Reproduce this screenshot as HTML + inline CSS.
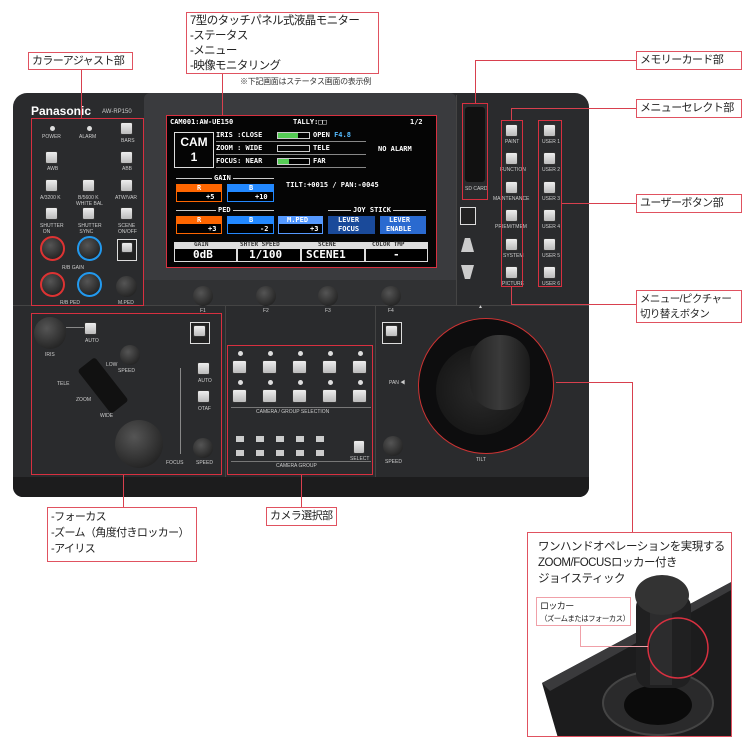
<!DOCTYPE html>
<html><head><meta charset="utf-8"><style>
*{margin:0;padding:0;box-sizing:border-box}
body{width:744px;height:751px;background:#fff;position:relative;overflow:hidden;font-family:"Liberation Sans","Noto Sans CJK JP",sans-serif}
.a{position:absolute}
.lb{position:absolute;border:1.5px solid #e05260;background:#fff;font-size:11px;line-height:15px;padding:1px 3px;color:#222;white-space:nowrap;letter-spacing:-0.6px;overflow:hidden}
.ln{position:absolute;background:#d8404e}
.rb{position:absolute;border:1px solid #d83040}
.btn{position:absolute;width:13px;height:13px;background:linear-gradient(#eee,#bbb);border:1px solid #333;border-radius:2px}
.t{position:absolute;color:#ccc;font-size:5px;white-space:nowrap}
.knob{position:absolute;border-radius:50%;background:radial-gradient(circle at 40% 35%,#555,#151515)}
.sc{position:absolute;font-family:"DejaVu Sans Mono",monospace;font-weight:bold;color:#fff;font-size:7px;white-space:nowrap}
</style></head><body>

<!-- device body -->
<div class="a" style="left:13px;top:93px;width:576px;height:404px;background:#2a2b2d;border-radius:14px 14px 10px 10px"></div>
<div class="a" style="left:13px;top:477px;width:576px;height:20px;background:#1c1c1d;border-radius:0 0 10px 10px"></div>
<div class="a" style="left:144px;top:93px;width:312px;height:212px;background:#3a3b3e;border-radius:6px"></div>
<div class="a" style="left:144px;top:280px;width:312px;height:25px;background:#303133"></div>
<div class="a" style="left:13px;top:305px;width:576px;height:1px;background:#444"></div>
<div class="a" style="left:225px;top:306px;width:1px;height:171px;background:#444"></div>
<div class="a" style="left:375px;top:306px;width:1px;height:171px;background:#444"></div>
<div class="a" style="left:456px;top:95px;width:1px;height:210px;background:#444"></div>

<!-- screen -->
<div class="a" style="left:166px;top:115px;width:271px;height:153px;background:#050505"></div>
<div class="sc" style="left:170px;top:118px">CAM001:AW-UE150</div>
<div class="sc" style="left:293px;top:118px">TALLY:□□</div>
<div class="sc" style="left:410px;top:118px">1/2</div>
<div class="a" style="left:174px;top:132px;width:40px;height:36px;border:1.5px solid #ddd;color:#fff;font-size:12px;font-weight:bold;text-align:center;line-height:15px;padding-top:2px">CAM<br>1</div>
<div class="sc" style="left:216px;top:131px">IRIS :CLOSE</div><div class="a" style="left:277px;top:132px;width:33px;height:7px;border:1px solid #ccc;background:linear-gradient(90deg,#5c5 65%,#000 65%)"></div><div class="sc" style="left:313px;top:131px">OPEN <span style="color:#5bf">F4.8</span></div>
<div class="sc" style="left:216px;top:144px">ZOOM : WIDE</div><div class="a" style="left:277px;top:145px;width:33px;height:7px;border:1px solid #ccc"></div><div class="sc" style="left:313px;top:144px">TELE</div>
<div class="sc" style="left:378px;top:145px">NO ALARM</div>
<div class="sc" style="left:216px;top:157px">FOCUS: NEAR</div><div class="a" style="left:277px;top:158px;width:33px;height:7px;border:1px solid #ccc;background:linear-gradient(90deg,#5c5 35%,#000 35%)"></div><div class="sc" style="left:313px;top:157px">FAR</div>
<div class="a" style="left:216px;top:141px;width:150px;height:1px;background:#888"></div>
<div class="a" style="left:216px;top:154px;width:150px;height:1px;background:#888"></div>
<div class="a" style="left:216px;top:167px;width:150px;height:1px;background:#888"></div>
<div class="a" style="left:176px;top:178px;width:98px;height:1px;background:#ccc"></div><div class="sc" style="left:212px;top:174px;background:#050505;padding:0 2px">GAIN</div>
<div class="a" style="left:176px;top:184px;width:46px;height:18px;border:1px solid #f60;background:linear-gradient(#f60 45%,#000 45%)"></div><div class="sc" style="left:197px;top:184px">R</div><div class="sc" style="left:206px;top:193px">+5</div>
<div class="a" style="left:227px;top:184px;width:47px;height:18px;border:1px solid #28f;background:linear-gradient(#28f 45%,#000 45%)"></div><div class="sc" style="left:249px;top:184px">B</div><div class="sc" style="left:255px;top:193px">+10</div>
<div class="sc" style="left:286px;top:181px">TILT:+0015 / PAN:-0045</div>
<div class="a" style="left:176px;top:210px;width:98px;height:1px;background:#ccc"></div><div class="sc" style="left:216px;top:206px;background:#050505;padding:0 2px">PED</div>
<div class="a" style="left:328px;top:210px;width:98px;height:1px;background:#ccc"></div><div class="sc" style="left:351px;top:206px;background:#050505;padding:0 2px">JOY STICK</div>
<div class="a" style="left:176px;top:216px;width:46px;height:18px;border:1px solid #f60;background:linear-gradient(#f60 45%,#000 45%)"></div><div class="sc" style="left:197px;top:216px">R</div><div class="sc" style="left:208px;top:225px">+3</div>
<div class="a" style="left:227px;top:216px;width:47px;height:18px;border:1px solid #28f;background:linear-gradient(#28f 45%,#000 45%)"></div><div class="sc" style="left:249px;top:216px">B</div><div class="sc" style="left:260px;top:225px">-2</div>
<div class="a" style="left:278px;top:216px;width:45px;height:18px;border:1px solid #59f;background:linear-gradient(#59f 45%,#000 45%)"></div><div class="sc" style="left:287px;top:216px">M.PED</div><div class="sc" style="left:310px;top:225px">+3</div>
<div class="a" style="left:328px;top:216px;width:47px;height:18px;background:#1a4a9a"></div><div class="sc" style="left:338px;top:216px">LEVER</div><div class="sc" style="left:338px;top:225px">FOCUS</div>
<div class="a" style="left:380px;top:216px;width:46px;height:18px;background:#2a6ad0"></div><div class="sc" style="left:389px;top:216px">LEVER</div><div class="sc" style="left:386px;top:225px">ENABLE</div>
<div class="a" style="left:174px;top:242px;width:254px;height:20px;background:#ddd"></div>
<div class="a" style="left:175px;top:249px;width:61px;height:12px;background:#000"></div><div class="a" style="left:238px;top:249px;width:62px;height:12px;background:#000"></div><div class="a" style="left:302px;top:249px;width:62px;height:12px;background:#000"></div><div class="a" style="left:366px;top:249px;width:61px;height:12px;background:#000"></div>
<div class="sc" style="left:194px;top:241px;color:#333;font-size:6px">GAIN</div><div class="sc" style="left:240px;top:241px;color:#333;font-size:6px">SHTER SPEED</div><div class="sc" style="left:318px;top:241px;color:#333;font-size:6px">SCENE</div><div class="sc" style="left:372px;top:241px;color:#333;font-size:6px">COLOR TMP</div>
<div class="sc" style="left:193px;top:248px;font-size:11px">0dB</div><div class="sc" style="left:249px;top:248px;font-size:11px">1/100</div><div class="sc" style="left:306px;top:248px;font-size:11px">SCENE1</div><div class="sc" style="left:393px;top:248px;font-size:11px">-</div>

<!-- left top panel -->
<div class="a" style="left:31px;top:104px;color:#fff;font-weight:bold;font-size:12px">Panasonic</div>
<div class="t" style="left:102px;top:109px;font-size:6px">AW-RP150</div>
<div class="a" style="left:50px;top:126px;width:5px;height:5px;border-radius:50%;background:#ddd"></div><div class="t" style="left:42px;top:134px">POWER</div>
<div class="a" style="left:87px;top:126px;width:5px;height:5px;border-radius:50%;background:#ddd"></div><div class="t" style="left:79px;top:134px">ALARM</div>
<div class="btn" style="left:120px;top:122px"></div><div class="t" style="left:121px;top:138px">BARS</div>
<div class="btn" style="left:45px;top:151px"></div><div class="t" style="left:47px;top:166px">AWB</div>
<div class="btn" style="left:120px;top:151px"></div><div class="t" style="left:122px;top:166px">ABB</div>
<div class="btn" style="left:45px;top:179px"></div><div class="btn" style="left:82px;top:179px"></div><div class="btn" style="left:120px;top:179px"></div>
<div class="t" style="left:40px;top:195px">A/3200 K</div><div class="t" style="left:78px;top:195px">B/5600 K</div><div class="t" style="left:115px;top:195px">ATW/VAR</div><div class="t" style="left:76px;top:201px">WHITE BAL</div>
<div class="btn" style="left:45px;top:207px"></div><div class="btn" style="left:82px;top:207px"></div><div class="btn" style="left:120px;top:207px"></div>
<div class="t" style="left:40px;top:223px">SHUTTER<br>&nbsp;&nbsp;ON</div><div class="t" style="left:78px;top:223px">SHUTTER<br>&nbsp;SYNC</div><div class="t" style="left:118px;top:223px">SCENE<br>ON/OFF</div>
<div class="knob" style="left:40px;top:236px;width:25px;height:25px;border:2px solid #d33"></div>
<div class="knob" style="left:77px;top:236px;width:25px;height:25px;border:2px solid #29e"></div>
<div class="a" style="left:117px;top:239px;width:20px;height:22px;border:1.5px solid #ddd;background:#222"></div><div class="btn" style="left:121px;top:242px;width:12px;height:11px"></div>
<div class="t" style="left:62px;top:265px">R/B GAIN</div>
<div class="knob" style="left:40px;top:272px;width:25px;height:25px;border:2px solid #d33"></div>
<div class="knob" style="left:77px;top:272px;width:25px;height:25px;border:2px solid #29e"></div>
<div class="knob" style="left:116px;top:276px;width:21px;height:21px"></div>
<div class="t" style="left:60px;top:300px">R/B PED</div><div class="t" style="left:118px;top:300px">M.PED</div>

<!-- F knobs -->
<div class="knob" style="left:193px;top:286px;width:20px;height:20px"></div><div class="t" style="left:200px;top:308px">F1</div>
<div class="knob" style="left:256px;top:286px;width:20px;height:20px"></div><div class="t" style="left:263px;top:308px">F2</div>
<div class="knob" style="left:318px;top:286px;width:20px;height:20px"></div><div class="t" style="left:325px;top:308px">F3</div>
<div class="knob" style="left:381px;top:286px;width:20px;height:20px"></div><div class="t" style="left:388px;top:308px">F4</div>

<!-- right top panel -->
<div class="a" style="left:465px;top:107px;width:20px;height:75px;background:#111;border-radius:3px"></div>
<div class="t" style="left:465px;top:186px">SD CARD</div>
<div class="a" style="left:460px;top:207px;width:16px;height:18px;border:1.5px solid #ddd;background:#222"></div>
<div class="a" style="left:461px;top:238px;width:13px;height:14px;background:#ccc;clip-path:polygon(30% 0,70% 0,100% 100%,0 100%)"></div>
<div class="a" style="left:461px;top:265px;width:13px;height:14px;background:#ccc;clip-path:polygon(0 0,100% 0,70% 100%,30% 100%)"></div>
<div class="btn" style="left:505px;top:124px"></div><div class="btn" style="left:505px;top:152px"></div><div class="btn" style="left:505px;top:181px"></div><div class="btn" style="left:505px;top:209px"></div><div class="btn" style="left:505px;top:238px"></div><div class="btn" style="left:505px;top:266px"></div>
<div class="btn" style="left:543px;top:124px"></div><div class="btn" style="left:543px;top:152px"></div><div class="btn" style="left:543px;top:181px"></div><div class="btn" style="left:543px;top:209px"></div><div class="btn" style="left:543px;top:238px"></div><div class="btn" style="left:543px;top:266px"></div>
<div class="t" style="left:505px;top:139px">PAINT</div><div class="t" style="left:500px;top:167px">FUNCTION</div><div class="t" style="left:493px;top:196px">MAINTENANCE</div><div class="t" style="left:495px;top:224px">PRIEM/TMEM</div><div class="t" style="left:503px;top:253px">SYSTEM</div><div class="t" style="left:502px;top:281px">PICTURE</div>
<div class="t" style="left:542px;top:139px">USER 1</div><div class="t" style="left:542px;top:167px">USER 2</div><div class="t" style="left:542px;top:196px">USER 3</div><div class="t" style="left:542px;top:224px">USER 4</div><div class="t" style="left:542px;top:253px">USER 5</div><div class="t" style="left:542px;top:281px">USER 6</div>

<!-- lower left -->
<div class="knob" style="left:34px;top:317px;width:32px;height:32px"></div><div class="t" style="left:45px;top:352px">IRIS</div>
<div class="btn" style="left:84px;top:322px"></div><div class="t" style="left:85px;top:338px">AUTO</div>
<div class="a" style="left:66px;top:327px;width:18px;height:1px;background:#888"></div>
<div class="a" style="left:190px;top:322px;width:20px;height:22px;border:1.5px solid #ddd;background:#222"></div><div class="btn" style="left:193px;top:325px;width:13px;height:12px"></div>
<div class="knob" style="left:120px;top:345px;width:20px;height:20px"></div><div class="t" style="left:106px;top:362px">LOW</div><div class="t" style="left:118px;top:368px">SPEED</div>
<div class="a" style="left:92px;top:358px;width:22px;height:55px;background:#111;transform:rotate(-38deg);border-radius:3px"></div>
<div class="t" style="left:57px;top:381px">TELE</div><div class="t" style="left:76px;top:397px">ZOOM</div><div class="t" style="left:100px;top:413px">WIDE</div>
<div class="btn" style="left:197px;top:362px"></div><div class="t" style="left:198px;top:378px">AUTO</div>
<div class="btn" style="left:197px;top:390px"></div><div class="t" style="left:198px;top:406px">OTAF</div>
<div class="a" style="left:180px;top:368px;width:1px;height:86px;background:#888"></div>
<div class="knob" style="left:115px;top:420px;width:48px;height:48px"></div><div class="t" style="left:166px;top:460px">FOCUS</div>
<div class="knob" style="left:193px;top:438px;width:20px;height:20px"></div><div class="t" style="left:196px;top:460px">SPEED</div>

<!-- camera selection -->
<div class="a" style="left:238px;top:351px;width:5px;height:5px;border-radius:50%;background:#ddd"></div>
<div class="a" style="left:268px;top:351px;width:5px;height:5px;border-radius:50%;background:#ddd"></div>
<div class="a" style="left:298px;top:351px;width:5px;height:5px;border-radius:50%;background:#ddd"></div>
<div class="a" style="left:328px;top:351px;width:5px;height:5px;border-radius:50%;background:#ddd"></div>
<div class="a" style="left:358px;top:351px;width:5px;height:5px;border-radius:50%;background:#ddd"></div>
<div class="btn" style="left:232px;top:360px;width:15px;height:14px"></div><div class="btn" style="left:262px;top:360px;width:15px;height:14px"></div><div class="btn" style="left:292px;top:360px;width:15px;height:14px"></div><div class="btn" style="left:322px;top:360px;width:15px;height:14px"></div><div class="btn" style="left:352px;top:360px;width:15px;height:14px"></div>
<div class="a" style="left:238px;top:380px;width:5px;height:5px;border-radius:50%;background:#ddd"></div>
<div class="a" style="left:268px;top:380px;width:5px;height:5px;border-radius:50%;background:#ddd"></div>
<div class="a" style="left:298px;top:380px;width:5px;height:5px;border-radius:50%;background:#ddd"></div>
<div class="a" style="left:328px;top:380px;width:5px;height:5px;border-radius:50%;background:#ddd"></div>
<div class="a" style="left:358px;top:380px;width:5px;height:5px;border-radius:50%;background:#ddd"></div>
<div class="btn" style="left:232px;top:389px;width:15px;height:14px"></div><div class="btn" style="left:262px;top:389px;width:15px;height:14px"></div><div class="btn" style="left:292px;top:389px;width:15px;height:14px"></div><div class="btn" style="left:322px;top:389px;width:15px;height:14px"></div><div class="btn" style="left:352px;top:389px;width:15px;height:14px"></div>
<div class="a" style="left:231px;top:407px;width:140px;height:1px;background:#777"></div>
<div class="t" style="left:256px;top:409px">CAMERA / GROUP SELECTION</div>
<div class="a" style="left:236px;top:436px;width:8px;height:6px;background:#ccc"></div><div class="a" style="left:256px;top:436px;width:8px;height:6px;background:#ccc"></div><div class="a" style="left:276px;top:436px;width:8px;height:6px;background:#ccc"></div><div class="a" style="left:296px;top:436px;width:8px;height:6px;background:#ccc"></div><div class="a" style="left:316px;top:436px;width:8px;height:6px;background:#ccc"></div>
<div class="a" style="left:236px;top:450px;width:8px;height:6px;background:#ccc"></div><div class="a" style="left:256px;top:450px;width:8px;height:6px;background:#ccc"></div><div class="a" style="left:276px;top:450px;width:8px;height:6px;background:#ccc"></div><div class="a" style="left:296px;top:450px;width:8px;height:6px;background:#ccc"></div><div class="a" style="left:316px;top:450px;width:8px;height:6px;background:#ccc"></div>
<div class="btn" style="left:353px;top:440px;width:12px;height:14px"></div><div class="t" style="left:350px;top:456px">SELECT</div>
<div class="a" style="left:231px;top:461px;width:140px;height:1px;background:#777"></div>
<div class="t" style="left:276px;top:463px">CAMERA GROUP</div>

<!-- joystick -->
<div class="a" style="left:382px;top:322px;width:20px;height:22px;border:1.5px solid #ddd;background:#222"></div><div class="btn" style="left:385px;top:325px;width:13px;height:12px"></div>
<div class="knob" style="left:383px;top:436px;width:20px;height:20px"></div><div class="t" style="left:385px;top:459px">SPEED</div>
<div class="t" style="left:389px;top:379px">PAN ◀</div><div class="t" style="left:478px;top:304px">▲</div><div class="t" style="left:476px;top:457px">TILT</div>
<div class="a" style="left:418px;top:318px;width:136px;height:136px;border-radius:50%;background:#0d0d0e;border:1px solid #c33"></div>
<div class="a" style="left:436px;top:345px;width:90px;height:90px;border-radius:50%;background:radial-gradient(circle,#2a2a2a,#111)"></div>
<div class="a" style="left:470px;top:335px;width:60px;height:75px;border-radius:28px;background:linear-gradient(90deg,#222,#3a3a3a,#1a1a1a)"></div>

<!-- red outlines -->
<div class="rb" style="left:166px;top:115px;width:271px;height:153px"></div>
<div class="rb" style="left:31px;top:118px;width:113px;height:188px"></div>
<div class="rb" style="left:462px;top:103px;width:26px;height:97px"></div>
<div class="rb" style="left:501px;top:120px;width:22px;height:167px"></div>
<div class="rb" style="left:538px;top:120px;width:24px;height:167px"></div>
<div class="rb" style="left:31px;top:313px;width:191px;height:162px"></div>
<div class="rb" style="left:227px;top:345px;width:146px;height:130px"></div>

<!-- connector lines -->
<div class="ln" style="left:81px;top:70px;width:1px;height:48px"></div>
<div class="ln" style="left:222px;top:74px;width:1px;height:41px"></div>
<div class="ln" style="left:475px;top:60px;width:161px;height:1px"></div><div class="ln" style="left:475px;top:60px;width:1px;height:43px"></div>
<div class="ln" style="left:511px;top:108px;width:125px;height:1px"></div><div class="ln" style="left:511px;top:108px;width:1px;height:12px"></div>
<div class="ln" style="left:562px;top:203px;width:74px;height:1px"></div>
<div class="ln" style="left:511px;top:287px;width:1px;height:17px"></div><div class="ln" style="left:511px;top:304px;width:125px;height:1px"></div>
<div class="ln" style="left:123px;top:475px;width:1px;height:32px"></div>
<div class="ln" style="left:301px;top:475px;width:1px;height:32px"></div>
<div class="ln" style="left:556px;top:382px;width:76px;height:1px"></div><div class="ln" style="left:632px;top:382px;width:1px;height:150px"></div>

<!-- labels -->
<div class="lb" style="left:28px;top:52px;width:105px;height:18px">カラーアジャスト部</div>
<div class="lb" style="left:186px;top:12px;width:193px;height:62px;font-size:11.5px;line-height:15px">7型のタッチパネル式液晶モニター<br>-ステータス<br>-メニュー<br>-映像モニタリング</div>
<div class="a" style="left:240px;top:76px;font-size:8px;color:#333;white-space:nowrap;letter-spacing:-0.3px">※下記画面はステータス画面の表示例</div>
<div class="lb" style="left:636px;top:51px;width:106px;height:19px">メモリーカード部</div>
<div class="lb" style="left:636px;top:99px;width:106px;height:19px">メニューセレクト部</div>
<div class="lb" style="left:636px;top:194px;width:106px;height:19px">ユーザーボタン部</div>
<div class="lb" style="left:636px;top:290px;width:106px;height:33px;line-height:15px;font-size:10.5px">メニュー/ピクチャー<br>切り替えボタン</div>
<div class="lb" style="left:47px;top:507px;width:150px;height:55px;line-height:16px">-フォーカス<br>-ズーム（角度付きロッカー）<br>-アイリス</div>
<div class="lb" style="left:266px;top:507px;width:71px;height:19px">カメラ選択部</div>

<!-- bottom right inset -->
<div class="a" style="left:527px;top:532px;width:205px;height:205px;border:1.5px solid #e05260;overflow:hidden;background:#fff">
  <svg width="205" height="205" style="position:absolute;left:0;top:0">
    <polygon points="14,150 205,48 205,205 30,205" fill="#1c1c1d"/>
    <polygon points="14,150 205,48 205,56 22,158" fill="#3a3a3c"/>
    <ellipse cx="130" cy="170" rx="55" ry="32" fill="#2a2a2b" stroke="#444" stroke-width="2"/>
    <ellipse cx="130" cy="172" rx="34" ry="20" fill="#0b0b0b"/>
    <rect x="108" y="60" width="55" height="95" rx="14" fill="#202021"/>
    <rect x="122" y="62" width="22" height="90" fill="#2c2c2d"/>
    <ellipse cx="134" cy="62" rx="27" ry="20" fill="#333"/>
    <circle cx="150" cy="115" r="30" fill="none" stroke="#d83040" stroke-width="1.5"/>
  </svg>
  <div class="a" style="left:10px;top:6px;font-size:11.5px;line-height:16px;color:#222;white-space:nowrap;letter-spacing:-0.5px">ワンハンドオペレーションを実現する<br>ZOOM/FOCUSロッカー付き<br>ジョイスティック</div>
</div>
<div class="a" style="left:536px;top:597px;width:95px;height:29px;border:1px solid #f0a0a8;background:#fff;font-size:9px;line-height:12px;padding:2px 3px;color:#222;white-space:nowrap;letter-spacing:-0.6px;overflow:hidden">ロッカー<br><span style="font-size:7.5px">（ズームまたはフォーカス）</span></div>
<div class="a" style="left:580px;top:626px;width:1px;height:20px;background:#f0a0a8"></div>
<div class="a" style="left:580px;top:646px;width:68px;height:1px;background:#f0a0a8"></div>
</body></html>
